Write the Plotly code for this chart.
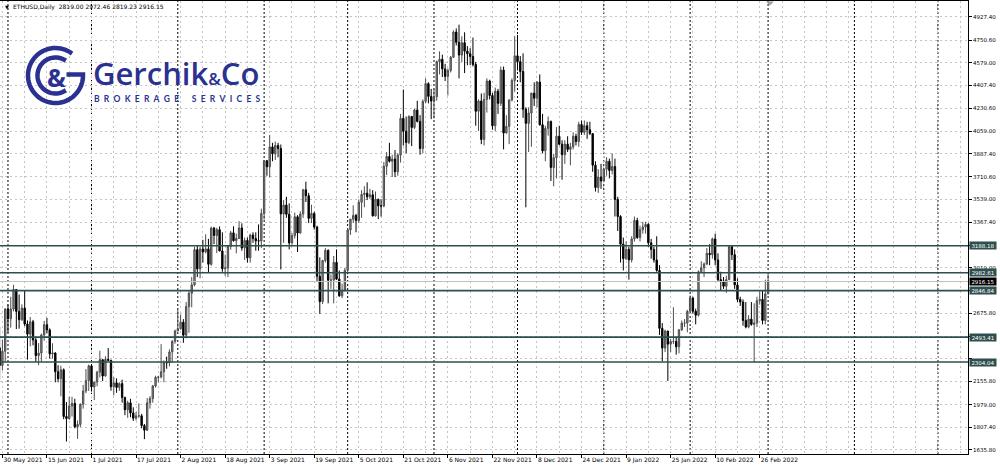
import plotly.graph_objects as go
import pandas as pd
import numpy as np

# ---------------- data (ETHUSD daily) ----------------
start_date = "2021-05-29"

opens = [
    2412, 2278, 2386,
    # Jun
    2706, 2633, 2707, 2855, 2689, 2626, 2714, 2593, 2516, 2610, 2472, 2353, 2372, 2510, 2588,
    2548, 2366, 2373, 2230, 2177, 2245, 1890, 1875, 1970, 1990, 1812, 1830, 1983, 2084, 2163,
    # Jul
    2275, 2115, 2152, 2227, 2322, 2198, 2324, 2318, 2116, 2146, 2111, 2140, 2035, 1941, 1994, 1917,
    1877, 1895, 1895, 1821, 1786, 1994, 2027, 2122, 2187, 2190, 2230, 2300, 2299, 2381, 2461,
    # Aug
    2540, 2557, 2607, 2508, 2725, 2827, 2891, 3158, 3012, 3163, 3141, 3164, 3047, 3322, 3266, 3310,
    3148, 3013, 3019, 3183, 3286, 3226, 3243, 3323, 3171, 3228, 3096, 3269, 3242, 3225, 3224,
    # Sep
    3433, 3834, 3788, 3939, 3887, 3950, 3927, 3430, 3497, 3427, 3209, 3265, 3408, 3285, 3429,
    3613, 3568, 3396, 3433, 3330, 2956, 2763, 3076, 3153, 2926, 2927, 3062, 2934, 2807, 2850,
    # Oct
    3001, 3308, 3390, 3418, 3380, 3518, 3577, 3587, 3560, 3575, 3415, 3541, 3491, 3490, 3792, 3866,
    3830, 3847, 3750, 3877, 4156, 4058, 3972, 4170, 4087, 4219, 4133, 3927, 4285, 4420, 4323,
    # Nov
    4288, 4321, 4587, 4605, 4532, 4475, 4520, 4620, 4812, 4734, 4637, 4731, 4667, 4648, 4626,
    4565, 4210, 4288, 3995, 4300, 4440, 4330, 4100, 4362, 4270, 4523, 4045, 4095, 4296, 4444,
    # Dec
    4631, 4587, 4512, 4225, 4118, 4197, 4348, 4309, 4432, 4108, 3909, 4080, 4132, 3782, 3857, 4020,
    3960, 3880, 3960, 3920, 3940, 4020, 3980, 4110, 4050, 4100, 4070, 4040, 3800, 3630, 3710,
    # Jan
    3680, 3770, 3830, 3760, 3790, 3540, 3410, 3200, 3090, 3160, 3080, 3240, 3380, 3250, 3310, 3330,
    3350, 3210, 3160, 3080, 3000, 2560, 2410, 2540, 2440, 2460, 2460, 2420, 2550, 2600, 2600,
    # Feb
    2690, 2790, 2690, 2660, 2990, 3020, 3050, 3130, 3120, 3240, 3080, 2930, 2920, 2880,
    2930, 3180, 3120, 2890, 2780, 2760, 2620, 2570, 2630, 2590, 2600, 2770, 2780, 2620,
    # Mar
    2822,
]

highs = [
    2570, 2475, 2714,
    2740, 2800, 2891, 2857, 2817, 2743, 2845, 2620, 2647, 2624, 2490, 2448, 2520, 2616, 2640,
    2560, 2447, 2378, 2280, 2276, 2255, 2000, 2040, 2040, 2025, 1860, 1990, 2130, 2250, 2284,
    2276, 2155, 2237, 2390, 2322, 2348, 2410, 2320, 2190, 2180, 2150, 2170, 2040, 2010, 2025, 1960,
    1925, 1990, 1910, 1833, 2030, 2045, 2130, 2200, 2200, 2440, 2316, 2345, 2400, 2470, 2550,
    2700, 2665, 2630, 2760, 2841, 2950, 3180, 3186, 3180, 3233, 3275, 3240, 3333, 3330, 3325, 3335,
    3290, 3120, 3190, 3300, 3336, 3280, 3375, 3358, 3250, 3250, 3280, 3290, 3290, 3350, 3470,
    3840, 3840, 4030, 3970, 3980, 3970, 3957, 3535, 3560, 3510, 3285, 3440, 3420, 3450, 3620,
    3675, 3590, 3500, 3447, 3340, 3100, 3080, 3170, 3160, 2970, 3110, 3160, 3000, 2900, 3020,
    3320, 3390, 3495, 3430, 3540, 3610, 3640, 3670, 3620, 3610, 3600, 3545, 3540, 3825, 3900, 3970,
    3880, 3915, 3890, 4190, 4375, 4170, 4180, 4175, 4230, 4290, 4180, 4300, 4460, 4430, 4380,
    4380, 4595, 4665, 4640, 4570, 4535, 4630, 4825, 4840, 4868, 4780, 4810, 4705, 4690, 4770,
    4585, 4300, 4345, 4350, 4460, 4450, 4350, 4390, 4380, 4550, 4550, 4180, 4300, 4460, 4780,
    4790, 4630, 4650, 4240, 4240, 4350, 4430, 4440, 4490, 4190, 4100, 4170, 4140, 3886, 4090, 4100,
    3990, 3990, 4020, 3970, 4050, 4040, 4130, 4140, 4140, 4130, 4130, 4040, 3830, 3770, 3810,
    3770, 3860, 3850, 3890, 3850, 3560, 3420, 3250, 3220, 3180, 3260, 3410, 3400, 3340, 3370, 3370,
    3360, 3240, 3180, 3260, 3040, 2600, 2550, 2540, 2480, 2720, 2490, 2550, 2620, 2630, 2700,
    2810, 2800, 2710, 3000, 3070, 3060, 3170, 3200, 3250, 3280, 3130, 2990, 2950, 2960,
    3190, 3190, 3160, 2940, 2800, 2780, 2760, 2660, 2760, 2750, 2800, 2840, 2850, 2930,
    2972.46,
]

lows = [
    2170, 2240, 2301,
    2528, 2565, 2689, 2555, 2558, 2616, 2577, 2322, 2423, 2431, 2305, 2280, 2305, 2466, 2521,
    2330, 2330, 2150, 2150, 2044, 1870, 1700, 1865, 1890, 1800, 1720, 1810, 1950, 2067, 2084,
    2080, 2015, 2120, 2187, 2160, 2194, 2310, 2086, 2050, 2070, 2085, 1995, 1900, 1880, 1885, 1856,
    1860, 1880, 1800, 1718, 1780, 1950, 1995, 2110, 2150, 2180, 2150, 2253, 2271, 2300, 2443,
    2540, 2550, 2450, 2484, 2526, 2720, 2880, 2950, 2940, 3060, 3130, 2980, 3036, 3200, 3132, 3150,
    2990, 2960, 2950, 3158, 3220, 3130, 3240, 3150, 3080, 3060, 3060, 3210, 3150, 3150, 3170,
    3387, 3720, 3708, 3830, 3840, 3860, 3008, 3210, 3400, 3160, 3195, 3243, 3140, 3280, 3400,
    3520, 3360, 3360, 3310, 2920, 2670, 2745, 3060, 2750, 2860, 2750, 2930, 2800, 2790, 2840,
    2970, 3270, 3360, 3290, 3360, 3400, 3480, 3535, 3545, 3410, 3410, 3390, 3410, 3480, 3725, 3820,
    3710, 3710, 3720, 3820, 3950, 3890, 3960, 3945, 4075, 4125, 3880, 3890, 4270, 4270, 4150,
    4155, 4290, 4490, 4470, 4440, 4330, 4505, 4615, 4710, 4460, 4585, 4500, 4560, 4560, 4550,
    4100, 4060, 3960, 3950, 4200, 4300, 4070, 4060, 4190, 4250, 3920, 4040, 3960, 4285, 4360,
    4520, 4430, 4160, 3480, 3900, 3940, 4250, 4240, 4100, 3890, 3830, 4025, 3680, 3640, 3700, 3950,
    3690, 3810, 3900, 3800, 3920, 3950, 3940, 4030, 4030, 4000, 4030, 3750, 3600, 3590, 3620,
    3680, 3720, 3700, 3730, 3410, 3300, 3060, 3000, 3080, 2930, 3060, 3220, 3240, 3220, 3280, 3280,
    3180, 3090, 3060, 2990, 2510, 2310, 2380, 2160, 2380, 2440, 2360, 2370, 2540, 2570, 2530,
    2680, 2670, 2590, 2650, 2990, 2950, 3040, 3040, 3090, 3040, 2920, 2850, 2860, 2830,
    2930, 3080, 2860, 2760, 2730, 2580, 2560, 2560, 2580, 2300, 2570, 2740, 2590, 2590,
    2819.23,
]

closes = [
    2278, 2386, 2706,
    2633, 2707, 2855, 2689, 2626, 2714, 2593, 2516, 2610, 2472, 2353, 2372, 2510, 2588, 2548,
    2366, 2373, 2230, 2177, 2245, 1890, 1875, 1970, 1990, 1812, 1830, 1983, 2084, 2163, 2275,
    2115, 2152, 2227, 2322, 2198, 2324, 2318, 2116, 2146, 2111, 2140, 2035, 1941, 1994, 1917, 1877,
    1895, 1895, 1821, 1786, 1994, 2027, 2122, 2187, 2190, 2230, 2300, 2299, 2381, 2461, 2540,
    2557, 2607, 2508, 2725, 2827, 2891, 3158, 3012, 3163, 3141, 3164, 3047, 3322, 3266, 3310, 3148,
    3013, 3019, 3183, 3286, 3226, 3243, 3323, 3171, 3228, 3096, 3269, 3242, 3225, 3224, 3433,
    3834, 3788, 3939, 3887, 3950, 3927, 3430, 3497, 3427, 3209, 3265, 3408, 3285, 3429, 3613,
    3568, 3396, 3433, 3330, 2956, 2763, 3076, 3153, 2926, 2927, 3062, 2934, 2807, 2850, 3001,
    3308, 3390, 3418, 3380, 3518, 3577, 3587, 3560, 3575, 3415, 3541, 3491, 3490, 3792, 3866, 3830,
    3847, 3750, 3877, 4156, 4058, 3972, 4170, 4087, 4219, 4133, 3927, 4285, 4420, 4323, 4288,
    4321, 4587, 4605, 4532, 4475, 4520, 4620, 4812, 4734, 4637, 4731, 4667, 4648, 4626, 4565,
    4210, 4288, 3995, 4300, 4440, 4330, 4100, 4362, 4270, 4523, 4045, 4095, 4296, 4444, 4631,
    4587, 4512, 4225, 4118, 4197, 4348, 4309, 4432, 4108, 3909, 4080, 4132, 3782, 3857, 4020, 3960,
    3880, 3960, 3920, 3940, 4020, 3980, 4110, 4050, 4100, 4070, 4040, 3800, 3630, 3710, 3680,
    3770, 3830, 3760, 3790, 3540, 3410, 3200, 3090, 3160, 3080, 3240, 3380, 3250, 3310, 3330, 3350,
    3210, 3160, 3080, 3000, 2560, 2410, 2540, 2440, 2460, 2460, 2420, 2550, 2600, 2600, 2690,
    2790, 2690, 2660, 2990, 3020, 3050, 3130, 3120, 3240, 3080, 2930, 2920, 2880, 2930,
    3180, 3120, 2890, 2780, 2760, 2620, 2570, 2630, 2590, 2600, 2770, 2780, 2620, 2822,
    2916.15,
]

level_values = [3188.18, 2982.61, 2846.84, 2493.41, 2304.04]
level_labels = ["3188.18", "2982.61", "2846.84", "2493.41", "2304.04"]
current_price = 2916.15
current_label = "2916.15"

y_tick_values = [1635.80, 1807.40, 1979.00, 2155.80, 2327.40, 2499.00, 2675.80, 2847.40,
                 3019.00, 3190.60, 3367.40, 3539.00, 3710.60, 3887.40, 4059.00, 4230.60,
                 4407.40, 4579.00, 4750.60, 4927.40]
# labels hidden under the level tags in the reference are left blank
y_tick_labels = ["1635.80", "1807.40", "1979.00", "2155.80", "", "", "2675.80",
                 "", "3019.00", "", "3367.40", "3539.00", "3710.60", "3887.40",
                 "4059.00", "4230.60", "4407.40", "4579.00", "4750.60", "4927.40"]

x_tick_dates = ["2021-05-30", "2021-06-15", "2021-07-01", "2021-07-17", "2021-08-02",
                "2021-08-18", "2021-09-03", "2021-09-19", "2021-10-05", "2021-10-21",
                "2021-11-06", "2021-11-22", "2021-12-08", "2021-12-24", "2022-01-09",
                "2022-01-25", "2022-02-10", "2022-02-26"]
x_tick_labels = ["30 May 2021", "15 Jun 2021", "1 Jul 2021", "17 Jul 2021", "2 Aug 2021",
                 "18 Aug 2021", "3 Sep 2021", "19 Sep 2021", "5 Oct 2021", "21 Oct 2021",
                 "6 Nov 2021", "22 Nov 2021", "8 Dec 2021", "24 Dec 2021", "9 Jan 2022",
                 "25 Jan 2022", "10 Feb 2022", "26 Feb 2022"]

header_text = "ETHUSD,Daily  2819.00 2972.46 2819.23 2916.15"

assert len(opens) == len(highs) == len(lows) == len(closes)
dates = pd.date_range(start_date, periods=len(closes), freq="D")
month_starts = pd.date_range("2021-06-01", "2022-05-01", freq="MS")

# ---------------- figure ----------------
W, H = 1000, 468
ML, MR, MT, MB = 0, 32, 1, 14
PW, PH = W - ML - MR, H - MT - MB
FONT = "DejaVu Sans"
GRID = "#c4c4c4"
LEVEL = "#2f4f4f"
NAVY = "#2b3191"


def px(x):
    return (x - ML) / PW


def py(y):
    return (H - MB - y) / PH


fig = go.Figure()
fig.add_trace(go.Candlestick(
    x=dates, open=opens, high=highs, low=lows, close=closes,
    increasing=dict(line=dict(color="#4d4d4d", width=1), fillcolor="#8c8c8c"),
    decreasing=dict(line=dict(color="#000000", width=1), fillcolor="#000000"),
    whiskerwidth=0, hoverinfo="skip", showlegend=False,
))

shapes = []
# monthly period separators
for d in month_starts:
    shapes.append(dict(type="line", xref="x", yref="paper", x0=d, x1=d, y0=0, y1=1,
                       line=dict(color="#000000", width=1, dash="2px,2px"), layer="below"))
# current price line
shapes.append(dict(type="line", xref="paper", yref="y", x0=0, x1=1,
                   y0=current_price, y1=current_price,
                   line=dict(color="#c0c0c0", width=1)))
# support / resistance levels
for v in level_values:
    shapes.append(dict(type="line", xref="paper", yref="y", x0=0, x1=1, y0=v, y1=v,
                       line=dict(color=LEVEL, width=1.6)))
# chart-shift marker
shapes.append(dict(type="path", xref="paper", yref="paper",
                   path=f"M {px(766)},{py(1.5)} L {px(774)},{py(1.5)} L {px(770)},{py(5.5)} Z",
                   fillcolor="#a0a0a0", line=dict(width=0)))

# logo icon (decorative)
cx, cy = 55.5, 75.5


def arc(r, a0, a1, n=60):
    a = np.radians(np.linspace(a0, a1, n))
    return [(cx + r * np.cos(t), cy - r * np.sin(t)) for t in a]


outer = arc(27.5, 53, 362) + [(cx + 11, cy - 1)]
middle = arc(18.0, 55, 305)
for pts in (outer, middle):
    path = "M " + " L ".join(f"{px(x):.5f},{py(y):.5f}" for x, y in pts)
    shapes.append(dict(type="path", xref="paper", yref="paper", path=path,
                       line=dict(color=NAVY, width=4.5)))

annotations = []
for v, t in zip(level_values, level_labels):
    annotations.append(dict(xref="paper", yref="y", x=1, y=v, xanchor="left", yanchor="middle",
                            xshift=1, text=t, showarrow=False, bgcolor=LEVEL, borderpad=0,
                            width=26, height=7,
                            font=dict(family=FONT, size=5.5, color="#ffffff")))
annotations.append(dict(xref="paper", yref="y", x=1, y=current_price, xanchor="left",
                        yanchor="middle", xshift=1, text=current_label, showarrow=False,
                        bgcolor="#000000", borderpad=0, width=26, height=7,
                        font=dict(family=FONT, size=5.5, color="#ffffff")))
# header
annotations.append(dict(xref="paper", yref="paper", x=px(3), y=py(7), xanchor="left",
                        yanchor="middle", text="▼", showarrow=False,
                        font=dict(family=FONT, size=5, color="#000000")))
annotations.append(dict(xref="paper", yref="paper", x=px(11), y=py(7), xanchor="left",
                        yanchor="middle", text=header_text, showarrow=False,
                        font=dict(family=FONT, size=6, color="#000000")))
# logo texts
annotations.append(dict(xref="paper", yref="paper", x=px(cx + 0.5), y=py(77), xanchor="center",
                        yanchor="middle", text="<b>&amp;</b>", showarrow=False,
                        font=dict(family="Open Sans", size=25, color=NAVY)))
annotations.append(dict(xref="paper", yref="paper", x=px(91), y=py(73), xanchor="left",
                        yanchor="middle",
                        text="Gerchik<span style='font-size:17px'>&amp;</span>Co",
                        showarrow=False,
                        font=dict(family="Open Sans", size=31, color=NAVY, weight=600)))
annotations.append(dict(xref="paper", yref="paper", x=px(177), y=py(99), xanchor="center",
                        yanchor="middle",
                        text="<b>" + "\u2002".join("BROKERAGE") + "\u2002\u2002\u2002"
                             + "\u2002".join("SERVICES") + "</b>",
                        showarrow=False, font=dict(family="Lato", size=8.5, color=NAVY)))

fig.update_layout(
    width=W, height=H,
    margin=dict(l=ML, r=MR, t=MT, b=MB, pad=0, autoexpand=False),
    paper_bgcolor="#ffffff", plot_bgcolor="#ffffff",
    font=dict(family=FONT, size=6, color="#000000"),
    shapes=shapes, annotations=annotations,
    showlegend=False,
    xaxis=dict(
        type="date", rangeslider=dict(visible=False),
        range=["2021-05-29 03:18", "2022-05-11 19:12"],
        tickmode="array", tickvals=x_tick_dates, ticktext=x_tick_labels,
        ticks="outside", ticklen=3, tickcolor="#000000", tickwidth=1,
        ticklabelposition="outside right", tickangle=0, automargin=False,
        tickfont=dict(family=FONT, size=6, color="#000000"),
        showgrid=True, gridcolor=GRID, griddash="2px,3px", gridwidth=1,
        minor=dict(tick0="2021-05-30", dtick=8 * 86400000, showgrid=True,
                   gridcolor=GRID, griddash="2px,3px", gridwidth=1),
        showline=True, linecolor="#000000", linewidth=1, mirror=True,
        zeroline=False, fixedrange=True,
    ),
    yaxis=dict(
        side="right", range=[1605, 5048], automargin=False,
        tickmode="array", tickvals=y_tick_values, ticktext=y_tick_labels,
        ticks="outside", ticklen=3, tickcolor="#000000", tickwidth=1,
        tickfont=dict(family=FONT, size=5.5, color="#000000"),
        showgrid=True, gridcolor=GRID, griddash="2px,3px", gridwidth=1,
        showline=True, linecolor="#000000", linewidth=1, mirror=True,
        zeroline=False, fixedrange=True,
    ),
)

fig.write_html(
    "out.html",
    config={"displayModeBar": False, "staticPlot": True},
    post_script="document.body.style.margin='0';document.body.style.overflow='hidden';",
)
